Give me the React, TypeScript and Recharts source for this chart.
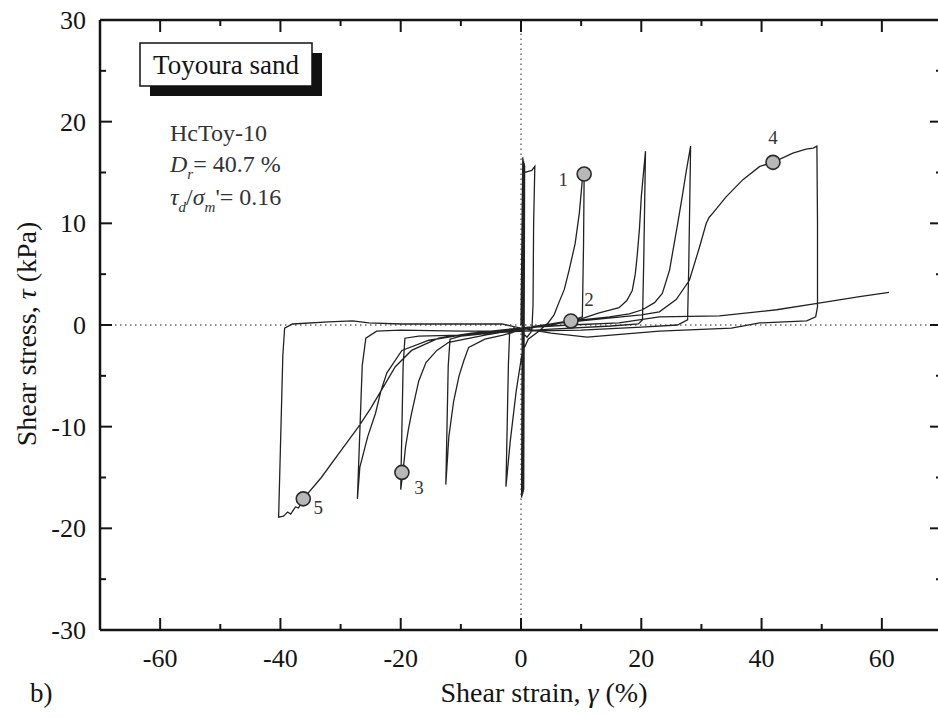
import React from "react";
import {
  ComposedChart,
  Line,
  Scatter,
  XAxis,
  YAxis,
  ReferenceLine,
} from "recharts";

const FONT = "'Liberation Serif', 'Times New Roman', serif";
const INK = "#141414";

// axis ticks (every 10 % strain, every 5 kPa; labels on majors)
const xTicks = [-60, -50, -40, -30, -20, -10, 0, 10, 20, 30, 40, 50, 60];
const yTicks = [-30, -25, -20, -15, -10, -5, 0, 5, 10, 15, 20, 25, 30];

// stress-strain path: [strain %, stress kPa]
const smallStrainCycles: [number, number][] = [
  [0, 0], [0.3, 16.5], [0.1, -17], [0.35, 16.3], [0.2, -16.8], [0.45, 16.1],
  [0.3, -16.6], [0.55, 15.9], [0.4, -16.4], [0.6, 15.7], [0.45, -16.2],
  [0.6, 15.0],
];
const cycle1: [number, number][] = [
  [1.2, 15.1], [1.8, 15.2], [2.3, 15.6], [2.1, 10], [2.0, 2], [1.8, -0.6],
  [1.0, -1.2], [0, -0.6], [-1.2, -0.3], [-1.9, -0.8], [-2.1, -4], [-2.5, -15.9],
  [-1.8, -11.5], [-0.8, -6.5], [0.2, -2.7], [1.2, -1.4], [3, -0.6], [4.5, 0.2],
  [5.5, 1.0], [6.3, 2.2], [7.2, 3.5], [8, 5.4], [9, 8], [9.7, 11], [10.2, 14.3],
  [10.5, 14.85],
];
const cycle2: [number, number][] = [
  [10.4, 8], [10.2, 0.8], [8.3, 0.4], [5, 0], [0, -0.4], [-5, -0.8], [-10, -1.1],
  [-11.8, -1.4], [-12.1, -4], [-12.5, -15.7], [-12.0, -11], [-11.2, -7.5],
  [-10.3, -5], [-9.5, -3.5], [-8.7, -2.2], [-6, -1.4], [-3, -1.0], [0, -0.5],
  [5, 0.1], [10, 0.6], [13, 1.2], [16.3, 1.7], [17.6, 2.4], [18.5, 3.4],
  [19, 5], [19.3, 6.7], [19.7, 9.5], [20, 12.6], [20.7, 17.1],
];
const cycle3: [number, number][] = [
  [20.4, 6], [20.2, 0.5], [19.5, 0.1], [15, -0.1], [5, -0.4], [0, -0.6],
  [-10, -1.0], [-17, -1.1], [-19.3, -1.3], [-19.6, -4], [-20, -16.2],
  [-19.6, -14.3], [-19.2, -12], [-18.7, -10.2], [-18.2, -8.7], [-17, -5.5],
  [-15.8, -3.7], [-14, -2.5], [-12, -1.7], [-6, -1.0], [0, -0.4], [5, 0.1],
  [10, 0.5], [14.7, 0.8], [18, 1.1], [20.2, 1.5], [22.2, 2.2], [23.5, 3.1],
  [24.7, 5.4], [25.2, 7.1], [26, 9.8], [26.8, 12.6], [27.5, 15.2], [28.2, 17.6],
];
const cycle4: [number, number][] = [
  [27.9, 6], [27.7, 0.5], [26, 0.0], [20, -0.2], [10, -0.5], [0, -0.6],
  [-10, -0.6], [-20, -0.5], [-24, -0.6], [-25.8, -1.3], [-26.4, -4],
  [-27.2, -17.1], [-26.8, -14], [-25.5, -11], [-24.2, -8.7], [-23.3, -6.5],
  [-22.3, -4.7], [-19.8, -2.5], [-15.3, -1.5], [-10, -1.0], [-5, -0.7],
  [0, -0.3], [5, 0.1], [10, 0.4], [15, 0.7], [20, 1.0], [23, 1.3], [25.8, 2.5],
  [28, 4.4], [29.7, 7.7], [30.8, 10.0], [31.3, 10.6], [31.9, 11], [34.1, 12.6],
  [36.9, 14.3], [39.7, 15.6], [41.9, 16], [45.2, 16.9], [47.4, 17.3],
  [48.6, 17.4], [49.2, 17.6],
];
const cycle5: [number, number][] = [
  [49.3, 10], [49.3, 1.8], [49, 0.8], [47.5, 0.4], [39.7, 0.2], [35, -0.3],
  [23, -0.6], [11, -1.2], [5, -0.8], [0, -0.3], [-3.2, 0.1], [-10, 0.1],
  [-20, 0.1], [-25.3, 0.2], [-28, 0.4], [-32, 0.3], [-38, 0.1], [-39.3, -0.3],
  [-39.6, -3], [-40.3, -18.9],
];
const finalLoading: [number, number][] = [
  [-39.5, -18.8], [-38.8, -18.4], [-38.3, -18.6], [-37.5, -17.9], [-37, -18],
  [-36.2, -17.1], [-33.2, -15], [-30, -12.4], [-27, -10], [-25, -8.2],
  [-23.2, -6.4], [-20.9, -4.1], [-18.2, -2.5], [-13.7, -1.3], [-8.2, -0.8],
  [-0.3, -0.3], [8, 0], [16.3, 0.2], [23, 0.8], [33, 0.9], [42.5, 1.5],
  [49, 2.1], [56.3, 2.8], [61.2, 3.2],
];

// numbered state points
const markerStrain = [10.5, 8.3, -19.8, 41.9, -36.2];
const markerStress = [14.85, 0.4, -14.5, 16.0, -17.1];
const markerLabels = ["1", "2", "3", "4", "5"];
const labelOffset = [
  [-21, 12],
  [18, -15],
  [17, 22],
  [0, -18],
  [15, 15],
];

const path = [
  ...smallStrainCycles,
  ...cycle1,
  ...cycle2,
  ...cycle3,
  ...cycle4,
  ...cycle5,
  ...finalLoading,
].map(([x, y]) => ({ x, y }));

const markers = markerStrain.map((x, i) => ({
  x,
  y: markerStress[i],
  label: markerLabels[i],
  i,
}));

const BottomTick = (props: any) => {
  const { x, y, payload } = props;
  const v = payload.value;
  const major = v % 20 === 0;
  return (
    <g>
      <line x1={x} x2={x} y1={y} y2={y - (major ? 12 : 6)} stroke={INK} strokeWidth={2} />
      {major && (
        <text x={x} y={y + 37} textAnchor="middle" fontFamily={FONT} fontSize={26} fill={INK}>
          {v}
        </text>
      )}
    </g>
  );
};

const TopTick = (props: any) => {
  const { x, y, payload } = props;
  const major = payload.value % 20 === 0;
  return <line x1={x} x2={x} y1={y} y2={y + (major ? 12 : 6)} stroke={INK} strokeWidth={2} />;
};

const LeftTick = (props: any) => {
  const { x, y, payload } = props;
  const v = payload.value;
  const major = v % 10 === 0;
  const edge = Math.abs(v) === 30;
  return (
    <g>
      {!edge && <line x1={x} x2={x + (major ? 12 : 6)} y1={y} y2={y} stroke={INK} strokeWidth={2} />}
      {major && (
        <text x={x - 14} y={y + 9} textAnchor="end" fontFamily={FONT} fontSize={26} fill={INK}>
          {v}
        </text>
      )}
    </g>
  );
};

const RightTick = (props: any) => {
  const { x, y, payload } = props;
  const v = payload.value;
  if (Math.abs(v) === 30) return <g />;
  const major = v % 10 === 0;
  return <line x1={x} x2={x - (major ? 12 : 6)} y1={y} y2={y} stroke={INK} strokeWidth={2} />;
};

const Marker = (props: any) => {
  const { cx, cy, payload } = props;
  const [dx, dy] = labelOffset[payload.i];
  return (
    <g>
      <circle cx={cx} cy={cy} r={7} fill="#b8b8b8" stroke="#2a2a2a" strokeWidth={1.6} />
      <text x={cx + dx} y={cy + dy} textAnchor="middle" fontFamily={FONT} fontSize={19} fill="#333">
        {payload.label}
      </text>
    </g>
  );
};

export default function App() {
  return (
    <div
      style={{
        position: "absolute",
        left: 0,
        top: 0,
        width: 938,
        height: 718,
        overflow: "hidden",
        background: "#fff",
      }}
    >
      <ComposedChart width={950} height={718} margin={{ top: 0, right: 0, bottom: 0, left: 0 }}>
        <XAxis
          dataKey="x"
          type="number"
          domain={[-70, 70]}
          ticks={xTicks}
          allowDataOverflow
          height={88}
          tickSize={0}
          tickMargin={0}
          tickLine={false}
          tick={<BottomTick />}
          axisLine={{ stroke: INK, strokeWidth: 2.5 }}
          interval={0}
        />
        <XAxis
          xAxisId="top"
          orientation="top"
          dataKey="x"
          type="number"
          domain={[-70, 70]}
          ticks={xTicks}
          allowDataOverflow
          height={20}
          tickSize={0}
          tickMargin={0}
          tickLine={false}
          tick={<TopTick />}
          axisLine={{ stroke: INK, strokeWidth: 2.5 }}
          interval={0}
        />
        <YAxis
          type="number"
          domain={[-30, 30]}
          ticks={yTicks}
          allowDataOverflow
          width={100}
          tickSize={0}
          tickMargin={0}
          tickLine={false}
          tick={<LeftTick />}
          axisLine={{ stroke: INK, strokeWidth: 2.5 }}
          interval={0}
        />
        <YAxis
          yAxisId="right"
          orientation="right"
          type="number"
          domain={[-30, 30]}
          ticks={yTicks}
          allowDataOverflow
          width={8}
          tickSize={0}
          tickMargin={0}
          tickLine={false}
          tick={<RightTick />}
          axisLine={{ stroke: INK, strokeWidth: 2.5 }}
          interval={0}
        />
        <ReferenceLine x={0} stroke="#6a6a6a" strokeWidth={1.5} strokeDasharray="1.5 3.5" />
        <ReferenceLine y={0} stroke="#6a6a6a" strokeWidth={1.5} strokeDasharray="1.5 3.5" />
        <Line
          data={path}
          dataKey="y"
          type="linear"
          stroke="#222"
          strokeWidth={1.3}
          dot={false}
          activeDot={false}
          isAnimationActive={false}
        />
        <Scatter data={markers} dataKey="y" shape={<Marker />} isAnimationActive={false} />
      </ComposedChart>

      <svg
        width={938}
        height={718}
        style={{ position: "absolute", left: 0, top: 0, pointerEvents: "none" }}
        fontFamily={FONT}
        fill={INK}
      >
        <rect x={150} y={53} width={172} height={43} fill="#111" />
        <rect x={140} y={43} width={172} height={43} fill="#fff" stroke="#111" strokeWidth={1.5} />
        <text x={226} y={74} textAnchor="middle" fontSize={27}>
          Toyoura sand
        </text>

        <text x={170} y={141} fontSize={24} fill="#333">
          HcToy-10
        </text>
        <text x={170} y={172} fontSize={24} fill="#333">
          <tspan fontStyle="italic">D</tspan>
          <tspan fontSize={15} fontStyle="italic" dy={7}>r</tspan>
          <tspan dy={-7}>= 40.7 %</tspan>
        </text>
        <text x={170} y={205} fontSize={24} fill="#333">
          <tspan fontStyle="italic">τ</tspan>
          <tspan fontSize={15} fontStyle="italic" dy={7}>d</tspan>
          <tspan dy={-7}>/</tspan>
          <tspan fontStyle="italic">σ</tspan>
          <tspan fontSize={15} fontStyle="italic" dy={7}>m</tspan>
          <tspan dy={-7}>'= 0.16</tspan>
        </text>

        <text x={544} y={702} textAnchor="middle" fontSize={28}>
          Shear strain, <tspan fontStyle="italic">γ</tspan> (%)
        </text>
        <text transform="rotate(-90)" x={-334} y={36} textAnchor="middle" fontSize={28}>
          Shear stress, <tspan fontStyle="italic">τ</tspan> (kPa)
        </text>
        <text x={30} y={702} fontSize={27}>
          b)
        </text>
      </svg>
    </div>
  );
}
